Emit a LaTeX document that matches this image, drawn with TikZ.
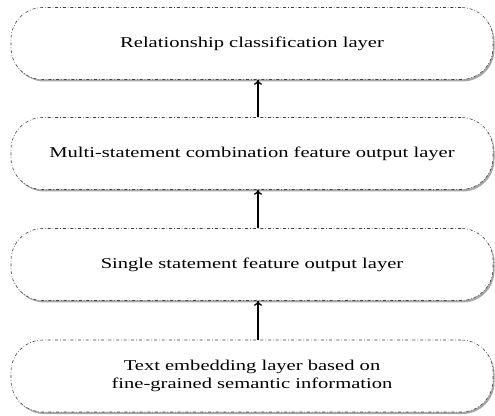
\documentclass[tikz,border=0pt]{standalone}
\usepackage{fontspec}
\setmainfont{Liberation Serif}
\usetikzlibrary{shadows,arrows.meta}
\newcommand{\widetext}[1]{\scalebox{1.37}[1]{\begin{tabular}{@{}c@{}}#1\end{tabular}}}
\begin{document}
\begin{tikzpicture}[x=1pt,y=1pt,
  layer/.style={draw=black!75, line width=0.6pt, dash dot, rounded corners=32pt,
    fill=white, minimum width=482pt, minimum height=72pt, align=center, inner sep=0pt,
    font=\fontsize{15}{18}\selectfont,
    drop shadow={shadow xshift=1.5pt, shadow yshift=-2pt, fill=black!50, opacity=0.7}},
  link/.style={line width=1.3pt, -{To[length=5pt,width=8pt]}}]
\useasboundingbox (0,0) rectangle (495,415);
\node[layer] (l1) at (252,371.5) {\widetext{Relationship classification layer}};
\node[layer] (l2) at (252,261.5) {\widetext{Multi-statement combination feature output layer}};
\node[layer] (l3) at (252,150.5) {\widetext{Single statement feature output layer}};
\node[layer] (l4) at (252,39) {\widetext{Text embedding layer based on\\fine-grained semantic information}};
\draw[link] (l2.north -| 258,0) -- (l1.south -| 258,0);
\draw[link] (l3.north -| 258,0) -- (l2.south -| 258,0);
\draw[link] (l4.north -| 258,0) -- (l3.south -| 258,0);
\end{tikzpicture}
\end{document}
